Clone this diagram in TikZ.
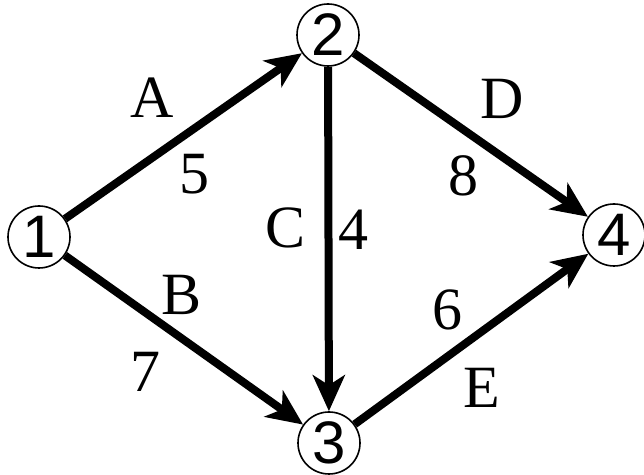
\documentclass[tikz,border=0pt]{standalone}
\usepackage{fontspec}
\setmainfont{Liberation Serif}
\newfontfamily\digitfont{Liberation Sans}
\usetikzlibrary{arrows.meta}

\begin{document}
\begin{tikzpicture}[x=0.5pt,y=-0.5pt,>={Stealth[length=18pt,width=16pt,inset=5pt]},event/.style={circle,draw,line width=0.8pt,minimum size=31pt,inner sep=0pt,font=\digitfont\fontsize{30}{30}\selectfont},activity/.style={->,line width=4pt},tag/.style={font=\fontsize{30}{30}\selectfont,inner sep=0pt}]
\useasboundingbox (0,0) rectangle (644,475);
\node[event] (N1) at (39,237) {1};\node[event] (N2) at (328,35) {2};\node[event] (N3) at (329,443) {3};\node[event] (N4) at (614,235) {4};
\draw[activity] (N1)--(N2);\draw[activity] (N1)--(N3);\draw[activity] (N2)--(N3);\draw[activity] (N2)--(N4);\draw[activity] (N3)--(N4);
\node[tag] (lA) at (152,98) {A};\node[tag] (w5) at (194,174) {5};\node[tag] (lB) at (182,295) {B};\node[tag] (w7) at (145,372) {7};\node[tag] (lC) at (286,228) {C};\node[tag] (w4) at (353,230) {4};
\node[tag] (lD) at (502,99) {D};\node[tag] (w8) at (463,176) {8};\node[tag] (w6) at (447,310) {6};\node[tag] (lE) at (482,388) {E};
\end{tikzpicture}
\end{document}
